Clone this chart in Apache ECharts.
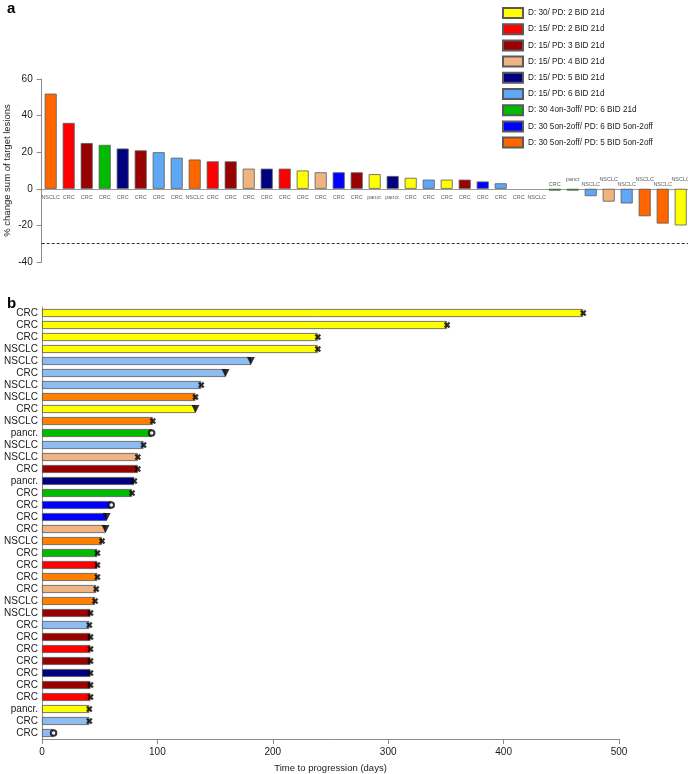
<!DOCTYPE html>
<html>
<head>
<meta charset="utf-8">
<script src="https://cdn.jsdelivr.net/npm/echarts@6/dist/echarts.min.js"></script>
<style>html,body{margin:0;padding:0;background:#fff}#c{width:688px;height:774px}</style>
</head>
<body>
<div id="c"></div>
<script>
// ---- legend groups ----
const groupNames = [
  'D: 30/ PD: 2 BID 21d',
  'D: 15/ PD: 2 BID 21d',
  'D: 15/ PD: 3 BID 21d',
  'D: 15/ PD: 4 BID 21d',
  'D: 15/ PD: 5 BID 21d',
  'D: 15/ PD: 6 BID 21d',
  'D: 30 4on-3off/ PD: 6 BID 21d',
  'D: 30 5on-2off/ PD: 6 BID 5on-2off',
  'D: 30 5on-2off/ PD: 5 BID 5on-2off'
];
const groupColorsA = ['#ffff00','#ff0000','#990000','#f0b482','#000080','#5fa8f5','#00bb00','#0000ff','#ff6600'];
const groupColorsB = ['#ffff00','#ff0000','#990000','#f0b482','#000080','#8ebcf0','#00bb00','#0000ff','#ff8000'];

// ---- panel a: waterfall ----
const catsA = ['NSCLC','CRC','CRC','CRC','CRC','CRC','CRC','CRC','NSCLC','CRC','CRC','CRC','CRC','CRC','CRC','CRC','CRC','CRC','pancr.','pancr.','CRC','CRC','CRC','CRC','CRC','CRC','CRC','NSCLC','CRC','pancr','NSCLC','NSCLC','NSCLC','NSCLC','NSCLC','NSCLC'];
const valsA = [52,36,25,24,22,21,20,17,16,15,15,11,11,11,10,9,9,9,8,7,6,5,5,5,4,3,0,0,-1,-1,-4,-7,-8,-15,-19,-20];
const grpA  = [8,1,2,6,4,2,5,5,8,1,2,3,4,1,0,3,7,2,0,4,0,5,0,2,7,5,-1,-1,6,6,5,3,5,8,8,0];
const yTicksA = [-40,-20,0,20,40,60];
const thresholdA = -30;

// ---- panel b: swimmer ----
const catsB = ['CRC','CRC','CRC','NSCLC','NSCLC','CRC','NSCLC','NSCLC','CRC','NSCLC','pancr.','NSCLC','NSCLC','CRC','pancr.','CRC','CRC','CRC','CRC','NSCLC','CRC','CRC','CRC','CRC','NSCLC','NSCLC','CRC','CRC','CRC','CRC','CRC','CRC','CRC','pancr.','CRC','CRC'];
const valsB = [469,351,239,239,181,159,138,133,133,96,95,88,83,83,80,78,60,56,55,52,48,48,48,47,46,42,41,42,42,42,42,42,42,41,41,10];
const grpB  = [0,0,0,0,5,5,5,8,0,8,6,5,3,2,4,6,7,7,3,8,6,1,8,3,8,2,5,2,1,2,4,2,1,0,5,5];
const markB = ['x','x','x','x','v','v','x','x','v','x','o','x','x','x','x','x','o','v','v','x','x','x','x','x','x','x','x','x','x','x','x','x','x','x','x','o'];
const xTicksB = [0,100,200,300,400,500];

const FONT = 'Liberation Sans, Arial, sans-serif';
const TXT = '#1a1a1a';
const AX = '#8a8a8a';
const crossPath = 'path://M0,2.5 L2.5,0 L5,2.5 L7.5,0 L10,2.5 L7.5,5 L10,7.5 L7.5,10 L5,7.5 L2.5,10 L0,7.5 L2.5,5 Z';

const chart = echarts.init(document.getElementById('c'), null, {renderer: 'canvas'});

const series = [];
groupNames.forEach((name, g) => {
  const s = {
    name, type: 'bar', xAxisIndex: 0, yAxisIndex: 0, stack: 'a', barWidth: 12,
    itemStyle: {color: groupColorsA[g], borderColor: '#5a5a5a', borderWidth: 0.8},
    data: valsA.map((v, i) => grpA[i] === g ? v : null),
    silent: true
  };
  if (g === 0) {
    s.markLine = {symbol: 'none', silent: true, label: {show: false},
      lineStyle: {type: [3, 2], color: '#333', width: 1},
      data: [{yAxis: thresholdA}]};
  }
  series.push(s);
});
series.push({
  type: 'scatter', xAxisIndex: 0, yAxisIndex: 0, symbolSize: 0, silent: true, z: 5,
  data: catsA.map((c, i) => {
    const neg = valsA[i] < 0;
    const alt = neg && (i % 2 === 1);
    return {value: [i, 0], label: {show: true, formatter: c, position: neg ? 'top' : 'bottom',
      distance: neg ? (alt ? 6.3 : 1.8) : 5.5, fontSize: 5.5, color: '#333', fontFamily: FONT}};
  })
});
groupNames.forEach((name, g) => {
  series.push({
    name, type: 'bar', xAxisIndex: 1, yAxisIndex: 1, stack: 'b', barWidth: 8,
    itemStyle: {color: groupColorsB[g], borderColor: '#555', borderWidth: 0.8},
    data: valsB.map((v, i) => grpB[i] === g ? v : null),
    silent: true
  });
});
series.push({
  type: 'scatter', xAxisIndex: 1, yAxisIndex: 1, silent: true, z: 6,
  data: valsB.map((v, i) => {
    const m = markB[i];
    if (m === 'x') return {value: [v, i], symbol: crossPath, symbolSize: 6.5, itemStyle: {color: '#000'}};
    if (m === 'v') return {value: [v, i], symbol: 'triangle', symbolRotate: 180, symbolSize: [8, 8], itemStyle: {color: '#000'}};
    return {value: [v, i], symbol: 'circle', symbolSize: 5.5, itemStyle: {color: '#fff', borderColor: '#000', borderWidth: 2}};
  })
});

const option = {
  animation: false,
  backgroundColor: '#fff',
  textStyle: {fontFamily: FONT, color: TXT},
  title: [
    {text: 'a', left: 2, top: -4, textStyle: {fontSize: 15, fontWeight: 'bold', color: '#000', fontFamily: FONT}},
    {text: 'b', left: 2, top: 291, textStyle: {fontSize: 15, fontWeight: 'bold', color: '#000', fontFamily: FONT}}
  ],
  legend: {
    data: groupNames, orient: 'vertical', left: 502, top: 7, padding: 0, itemWidth: 20, itemHeight: 10, itemGap: 4.2,
    selectedMode: false, icon: 'rect', textStyle: {fontSize: 8.2, color: TXT, fontFamily: FONT}
  },
  grid: [
    {left: 41.7, top: 79, width: 648, height: 183, outerBoundsMode: 'none', containLabel: false},
    {left: 42, top: 307, width: 577, height: 432, outerBoundsMode: 'none', containLabel: false}
  ],
  xAxis: [
    {gridIndex: 0, type: 'category', data: catsA.map((c, i) => i), boundaryGap: true,
      axisLine: {onZero: true, lineStyle: {color: '#999', width: 1}},
      axisTick: {show: false}, axisLabel: {show: false}, splitLine: {show: false}},
    {gridIndex: 1, type: 'value', min: xTicksB[0], max: xTicksB[xTicksB.length - 1], interval: 100,
      name: 'Time to progression (days)', nameLocation: 'middle', nameGap: 24, nameMoveOverlap: false,
      nameTextStyle: {fontSize: 9.5, color: TXT, fontFamily: FONT},
      axisLine: {show: true, lineStyle: {color: AX}},
      axisTick: {show: true, length: 5, lineStyle: {color: AX}},
      axisLabel: {fontSize: 10, color: TXT, margin: 8, fontFamily: FONT},
      splitLine: {show: false}}
  ],
  yAxis: [
    {gridIndex: 0, type: 'value', min: yTicksA[0], max: yTicksA[yTicksA.length - 1], interval: 20,
      name: '% change sum of target lesions', nameLocation: 'middle', nameGap: 29, nameRotate: 90,
      nameMoveOverlap: false,
      nameTextStyle: {fontSize: 9.5, color: TXT, fontFamily: FONT},
      axisLine: {show: true, lineStyle: {color: AX}},
      axisTick: {show: true, length: 5, lineStyle: {color: AX}},
      axisLabel: {fontSize: 10, color: TXT, margin: 9, fontFamily: FONT},
      splitLine: {show: false}},
    {gridIndex: 1, type: 'category', data: catsB, inverse: true,
      axisLine: {show: true, lineStyle: {color: AX}},
      axisTick: {show: false},
      axisLabel: {fontSize: 10, color: TXT, margin: 4, interval: 0, fontFamily: FONT},
      splitLine: {show: false}}
  ],
  series
};
chart.setOption(option);
</script>
</body>
</html>
